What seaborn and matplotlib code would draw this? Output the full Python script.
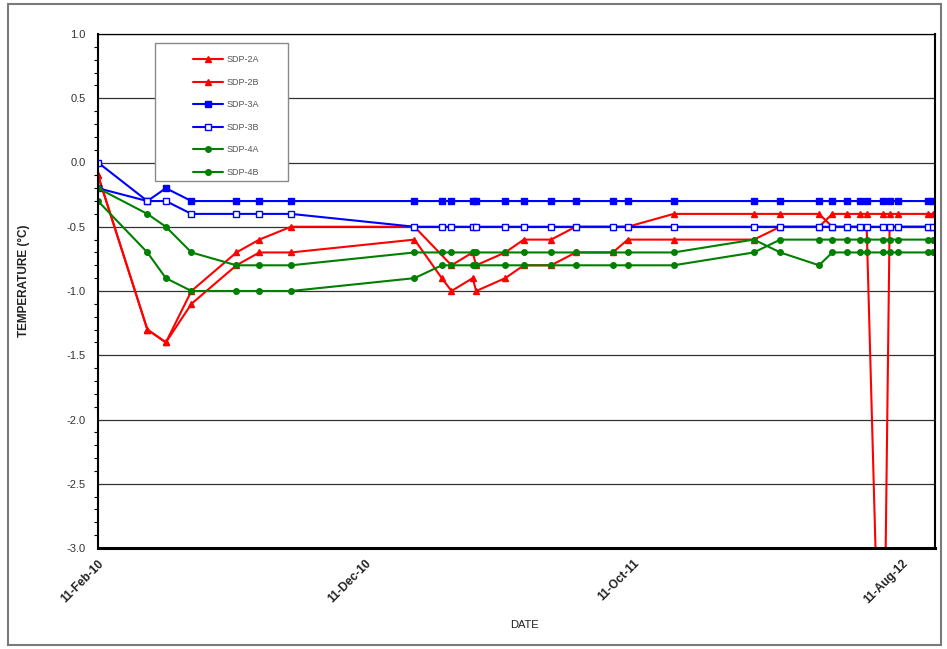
import matplotlib
matplotlib.use("Agg")
import matplotlib.pyplot as plt
import matplotlib.dates as mdates
from matplotlib.ticker import MultipleLocator, FuncFormatter
from matplotlib.patches import Rectangle
from matplotlib.lines import Line2D
import seaborn as sns
import pandas as pd

sns.set_style("white")
plt.rcParams["font.family"] = ["Liberation Sans", "DejaVu Sans"]

# ---------------- data ----------------
dates = ["2010-02-11", "2010-04-08", "2010-04-29", "2010-05-28", "2010-07-18",
         "2010-08-13", "2010-09-18", "2011-02-05", "2011-03-08", "2011-03-19",
         "2011-04-12", "2011-04-16", "2011-05-19", "2011-06-09", "2011-07-10",
         "2011-08-07", "2011-09-18", "2011-10-05", "2011-11-26", "2012-02-25",
         "2012-03-26", "2012-05-09", "2012-05-24", "2012-06-10", "2012-06-24",
         "2012-07-02", "2012-07-20", "2012-07-28", "2012-08-06", "2012-09-09",
         "2012-09-15"]

sdp_2a = [-0.1, -1.3, -1.4, -1.0, -0.7, -0.6, -0.5, -0.5, None, -0.8,
          -0.7, -0.8, -0.7, -0.6, -0.6, -0.5, -0.5, -0.5, -0.4, -0.4,
          -0.4, -0.4, -0.5, -0.5, -0.5, -0.5, -5.0, -0.5, -0.5, -0.5,
          -0.5]
sdp_2b = [-0.1, -1.3, -1.4, -1.1, -0.8, -0.7, -0.7, -0.6, -0.9, -1.0,
          -0.9, -1.0, -0.9, -0.8, -0.8, -0.7, -0.7, -0.6, -0.6, -0.6,
          -0.5, -0.5, -0.4, -0.4, -0.4, -0.4, -0.4, -0.4, -0.4, -0.4,
          -0.4]
sdp_3a = [-0.2, -0.3, -0.2, -0.3, -0.3, -0.3, -0.3, -0.3, -0.3, -0.3,
          -0.3, -0.3, -0.3, -0.3, -0.3, -0.3, -0.3, -0.3, -0.3, -0.3,
          -0.3, -0.3, -0.3, -0.3, -0.3, -0.3, -0.3, -0.3, -0.3, -0.3,
          -0.3]
sdp_3b = [0.0, -0.3, -0.3, -0.4, -0.4, -0.4, -0.4, -0.5, -0.5, -0.5,
          -0.5, -0.5, -0.5, -0.5, -0.5, -0.5, -0.5, -0.5, -0.5, -0.5,
          -0.5, -0.5, -0.5, -0.5, -0.5, -0.5, -0.5, -0.5, -0.5, -0.5,
          -0.5]
sdp_4a = [-0.2, -0.4, -0.5, -0.7, -0.8, -0.8, -0.8, -0.7, -0.7, -0.7,
          -0.7, -0.7, -0.7, -0.7, -0.7, -0.7, -0.7, -0.7, -0.7, -0.6,
          -0.7, -0.8, -0.7, -0.7, -0.7, -0.7, -0.7, -0.7, -0.7, -0.7,
          -0.7]
sdp_4b = [-0.3, -0.7, -0.9, -1.0, -1.0, -1.0, -1.0, -0.9, -0.8, -0.8,
          -0.8, -0.8, -0.8, -0.8, -0.8, -0.8, -0.8, -0.8, -0.8, -0.7,
          -0.6, -0.6, -0.6, -0.6, -0.6, -0.6, -0.6, -0.6, -0.6, -0.6,
          -0.6]

series_names = ["SDP-2A", "SDP-2B", "SDP-3A", "SDP-3B", "SDP-4A", "SDP-4B"]
series_values = [sdp_2a, sdp_2b, sdp_3a, sdp_3b, sdp_4a, sdp_4b]
tick_dates = ["2010-02-11", "2010-12-11", "2011-10-11", "2012-08-11"]

# ---------------- styles ----------------
RED, BLUE, GREEN = "#ff0000", "#0000ff", "#008000"
styles = [
    dict(color=RED, marker="^", mfc=RED, ms=4.2),
    dict(color=RED, marker="^", mfc=RED, ms=4.2),
    dict(color=BLUE, marker="s", mfc=BLUE, ms=4.0),
    dict(color=BLUE, marker="s", mfc="white", ms=4.0),
    dict(color=GREEN, marker="o", mfc=GREEN, ms=4.0),
    dict(color=GREEN, marker="o", mfc=GREEN, ms=4.0),
]

W, H = 947, 649
fig = plt.figure(figsize=(W / 100, H / 100), dpi=100)
L, R, T, B = 98, 935, 34, 548
ax = fig.add_axes([L / W, 1 - B / H, (R - L) / W, (B - T) / H])

handles = []
for name, vals, st in zip(series_names, series_values, styles):
    df = pd.DataFrame({"date": pd.to_datetime(dates), "temp": vals}).dropna()
    sns.lineplot(data=df, x="date", y="temp", ax=ax, color=st["color"],
                 marker=st["marker"], markerfacecolor=st["mfc"],
                 markeredgecolor=st["color"], markeredgewidth=1.0,
                 markersize=st["ms"], linewidth=1.5, errorbar=None,
                 sort=False, legend=False)
    handles.append(Line2D([], [], color=st["color"], marker=st["marker"],
                          markerfacecolor=st["mfc"], markeredgecolor=st["color"],
                          markersize=st["ms"], linewidth=1.5, label=name))

ax.set_xlim(pd.Timestamp("2010-02-11"), pd.Timestamp("2012-09-17 12:00"))
ax.set_ylim(-3.0, 1.0)

ax.yaxis.set_major_locator(MultipleLocator(0.5))
ax.yaxis.set_minor_locator(MultipleLocator(0.1))


def yfmt(v, pos):
    v = round(v, 1)
    if abs(v) < 1e-9:
        v = 0.0
    return f"{v:.1f}"


ax.yaxis.set_major_formatter(FuncFormatter(yfmt))
ax.set_xticks(pd.to_datetime(tick_dates))
ax.xaxis.set_major_formatter(mdates.DateFormatter("%d-%b-%y"))

ax.yaxis.grid(True, which="major", color="#333333", linewidth=0.9)
ax.xaxis.grid(False)
ax.set_axisbelow(True)

for side in ["left", "bottom", "right", "top"]:
    ax.spines[side].set_visible(True)
    ax.spines[side].set_color("black")
ax.spines["left"].set_linewidth(1.5)
ax.spines["bottom"].set_linewidth(2.2)
ax.spines["right"].set_linewidth(1.5)
ax.spines["top"].set_linewidth(0.9)

ax.tick_params(axis="y", which="major", direction="out", length=5, width=1,
               color="black", labelsize=8, labelcolor="#333333", pad=4)
ax.tick_params(axis="y", which="minor", direction="out", length=3, width=0.8,
               color="black", left=True)
ax.tick_params(axis="x", which="major", direction="out", length=4, width=1,
               color="black", labelsize=8.5, labelcolor="#222222", pad=3)
for lab in ax.get_xticklabels():
    lab.set_rotation(45)
    lab.set_ha("right")
    lab.set_va("top")
    lab.set_rotation_mode("anchor")
    lab.set_fontweight("bold")

ax.set_xlabel("DATE", fontsize=8, color="#222222")
ax.set_ylabel("TEMPERATURE (°C)", fontsize=8.5, fontweight="bold", color="#222222")
ax.yaxis.set_label_coords(-0.081, 0.52)
ax.xaxis.set_label_coords(0.51, -0.14)

# legend box
bx0, bx1, by0, by1 = 155, 288, 43, 181
box = Rectangle(((bx0 - L) / (R - L), 1 - (by1 - T) / (B - T)),
                (bx1 - bx0) / (R - L), (by1 - by0) / (B - T),
                transform=ax.transAxes, facecolor="white", edgecolor="#8a8a8a",
                linewidth=1.0, zorder=5)
ax.add_patch(box)
leg = ax.legend(handles=handles, loc="upper left",
                bbox_to_anchor=((185 - L) / (R - L), 1 - (47 - T) / (B - T)),
                frameon=False, fontsize=6.5, handlelength=3.3,
                handletextpad=0.4, labelspacing=1.5, borderpad=0.4)
leg.set_zorder(6)
for t in leg.get_texts():
    t.set_color("#555555")

# figure border
fig.patches.append(Rectangle((8 / W, 4 / H), (941 - 8) / W, (645 - 4) / H,
                             transform=fig.transFigure, fill=False,
                             edgecolor="#7a7a7a", linewidth=1.5))

fig.savefig("out.png", dpi=100)
